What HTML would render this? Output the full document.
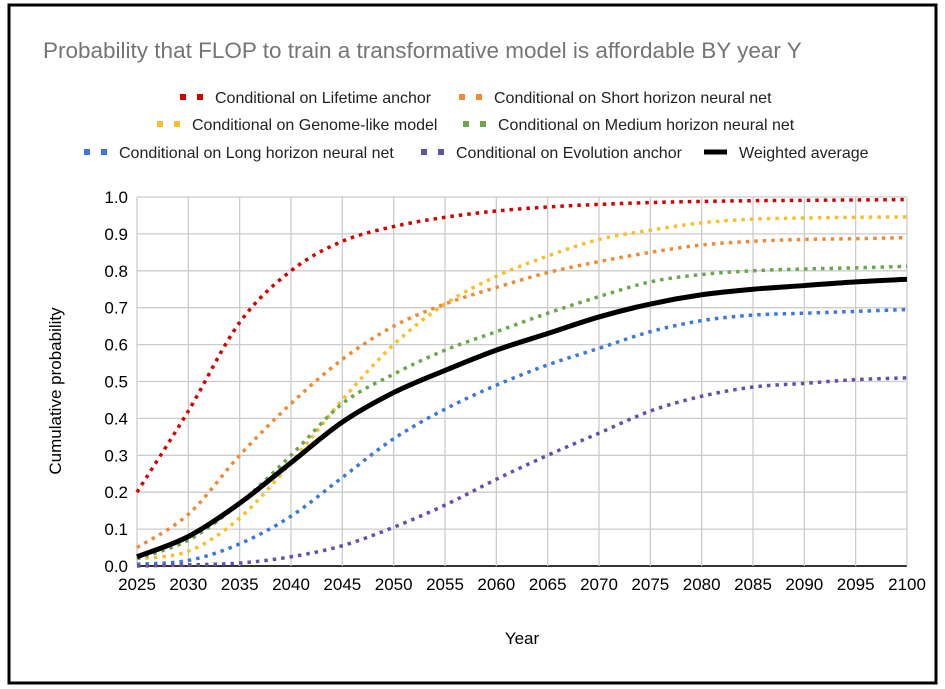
<!DOCTYPE html>
<html><head><meta charset="utf-8"><style>
html,body{margin:0;padding:0;background:#fff;}
svg{display:block;font-family:"Liberation Sans",Arial,sans-serif;}
</style></head><body>
<svg id="chart" width="945" height="689" viewBox="0 0 945 689">
<rect x="9" y="5" width="927" height="678" fill="#fff" stroke="#000" stroke-width="3"/>
<text x="43" y="58" font-size="22.5" fill="#757575">Probability that FLOP to train a transformative model is affordable BY year Y</text>
<g id="grid"></g>
<g id="yticks"></g>
<g id="xticks"></g>
<g id="series"></g>
<g id="legend"></g>
<text x="522" y="644" font-size="17" text-anchor="middle" fill="#000">Year</text>
<text transform="translate(61,391) rotate(-90)" font-size="17" text-anchor="middle" fill="#000">Cumulative probability</text>
</svg>
<script>
const years = [2025,2030,2035,2040,2045,2050,2055,2060,2065,2070,2075,2080,2085,2090,2095,2100];
const lifetime = [0.2,0.42,0.66,0.8,0.88,0.92,0.945,0.962,0.973,0.98,0.985,0.988,0.99,0.991,0.992,0.993];
const shortH = [0.05,0.14,0.30,0.44,0.56,0.65,0.71,0.755,0.795,0.825,0.85,0.87,0.88,0.885,0.887,0.89];
const genome = [0.02,0.04,0.13,0.28,0.45,0.60,0.71,0.785,0.84,0.885,0.91,0.93,0.94,0.943,0.945,0.946];
const mediumH = [0.02,0.07,0.17,0.30,0.44,0.52,0.585,0.635,0.685,0.73,0.77,0.79,0.80,0.805,0.808,0.812];
const longH = [0.005,0.015,0.06,0.135,0.24,0.345,0.425,0.49,0.545,0.59,0.635,0.665,0.68,0.685,0.69,0.695];
const evolution = [0,0.003,0.008,0.025,0.055,0.105,0.165,0.235,0.30,0.36,0.42,0.46,0.485,0.495,0.505,0.51];
const weighted = [0.025,0.08,0.17,0.28,0.39,0.47,0.53,0.585,0.63,0.675,0.71,0.735,0.75,0.76,0.77,0.777];
const yTickLabels = ["0.0","0.1","0.2","0.3","0.4","0.5","0.6","0.7","0.8","0.9","1.0"];
const seriesNames = ["Conditional on Lifetime anchor","Conditional on Short horizon neural net","Conditional on Genome-like model","Conditional on Medium horizon neural net","Conditional on Long horizon neural net","Conditional on Evolution anchor","Weighted average"];

const NS="http://www.w3.org/2000/svg";
const X0=137,X1=907,Y0=566,Y1=197;
const xs=y=>X0+(y-2025)/(2100-2025)*(X1-X0);
const ys=v=>Y0-v*(Y0-Y1);
function mk(tag,attrs,parent){const e=document.createElementNS(NS,tag);for(const k in attrs)e.setAttribute(k,attrs[k]);parent.appendChild(e);return e;}
const grid=document.getElementById('grid'),yt=document.getElementById('yticks'),xt=document.getElementById('xticks');
yTickLabels.forEach(l=>{const v=parseFloat(l);
 const ln=mk('line',{x1:X0,x2:X1,y1:ys(v),y2:ys(v),stroke:v===0?'#333':'#ccc','stroke-width':v===0?2:1.3},grid);
 
 
 const t=mk('text',{x:X0-9,y:ys(v)+6,'font-size':17,'text-anchor':'end',fill:'#000'},yt);t.textContent=l;
 
 
});
years.forEach(y=>{
 const ln=mk('line',{x1:xs(y),x2:xs(y),y1:Y1,y2:Y0,stroke:'#ccc','stroke-width':1.3},grid);
 
 
 const t=mk('text',{x:xs(y),y:Y0+24,'font-size':17,'text-anchor':'middle',fill:'#000'},xt);t.textContent=y;
 
 
});
function pathD(vals){const p=vals.map((v,i)=>[xs(years[i]),ys(v)]);let d=`M${p[0][0]},${p[0][1]}`;
 for(let i=0;i<p.length-1;i++){const a=p[Math.max(0,i-1)],b=p[i],c=p[i+1],e=p[Math.min(p.length-1,i+2)];
 const c1=[b[0]+(c[0]-a[0])/6,b[1]+(c[1]-a[1])/6],c2=[c[0]-(e[0]-b[0])/6,c[1]-(e[1]-b[1])/6];
 d+=` C${c1[0]},${c1[1]} ${c2[0]},${c2[1]} ${c[0]},${c[1]}`;}return d;}
const allSeries=[lifetime,shortH,genome,mediumH,longH,evolution,weighted];
const colors=['#d50000','#ef8b35','#f6c02b','#6aa84f','#3c78d8','#674ea7','#000'];
const sg=document.getElementById('series');
allSeries.forEach((s,i)=>{const black=i===6;
 const p=mk('path',{d:pathD(s),fill:'none',stroke:colors[i],'stroke-width':black?5:3.5,'stroke-dasharray':black?'none':'3.5 5','stroke-linejoin':'round'},sg);
 
 
});
const lg=document.getElementById('legend');
const legPos=[[180,97],[459,97],[157,124],[463,124],[84,152],[421,152],[704,152]];
seriesNames.forEach((n,i)=>{const [x,y]=legPos[i];const g=mk('g',{},lg);
 
 
 if(i===6){mk('rect',{x:x,y:y-2.5,width:23,height:5,fill:'#000'},g);}
 else{mk('rect',{x:x,y:y-3,width:6,height:6,fill:colors[i]},g);mk('rect',{x:x+17,y:y-3,width:6,height:6,fill:colors[i]},g);}
 const t=mk('text',{x:x+35,y:y+6,'font-size':16,fill:'#222'},g);t.textContent=n;
});
</script>
</body></html>
